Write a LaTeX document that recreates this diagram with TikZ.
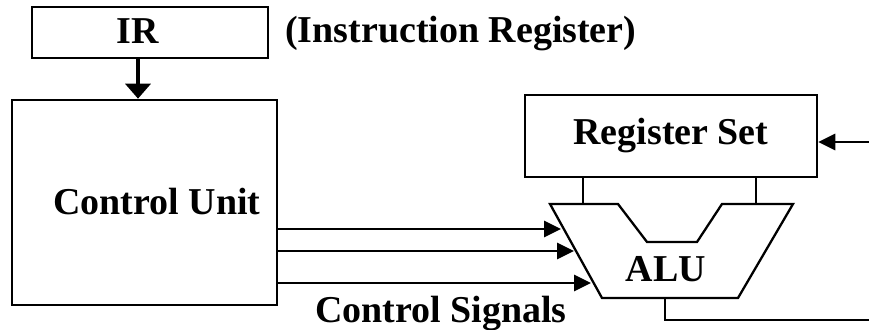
\documentclass[tikz,border=0pt]{standalone}
\usepackage{fontspec}
\setmainfont{Liberation Serif}
\usetikzlibrary{arrows.meta}

\begin{document}
\begin{tikzpicture}[
  x=0.02cm, y=-0.02cm,
  every node/.style = {font=\fontsize{21.6}{24}\selectfont\bfseries},
  box/.style = {draw, line width=1.5pt, inner sep=0pt},
  txt/.style = {anchor=base, inner sep=0pt},
  sig/.style = {line width=1.7pt, -{Triangle[length=0.34cm, width=0.32cm]}},
  wire/.style = {line width=1.3pt}
]
  \useasboundingbox (0,0) rectangle (869,330);

  \node[box, minimum width=4.72cm, minimum height=1.02cm] (ir) at (150,32.5) {};
  \node[txt] (irl) at (138,44) {IR};
  \node[txt, anchor=base west] (irn) at (285,43) {(Instruction\ Register)};

  \node[box, minimum width=5.3cm, minimum height=4.1cm] (cu) at (144.5,202.5) {};
  \node[txt] (cul) at (157,215) {Control Unit};

  \node[box, minimum width=5.84cm, minimum height=1.64cm] (rs) at (671,136) {};
  \node[txt] (rsl) at (671,145) {Register Set};

  % ALU outline
  \draw[wire] (550,204) -- (618,204) -- (647,242) -- (697,242) -- (722,204) -- (793,204) -- (738,298) -- (602,298) -- cycle;
  \node[txt] (alu) at (666,282) {ALU};

  \draw[line width=2.8pt, -{Triangle[length=0.3cm, width=0.5cm]}] (ir.south -| irl) -- (cu.north -| irl);

  \foreach \n/\x/\y in {1/561/229, 2/574/251, 3/591/283}
    \coordinate (s\n) at (\x,\y);
  \foreach \n in {1,2,3}
    \draw[sig] (cu.east |- s\n) -- (s\n);
  \node[txt] (csl) at (441,323) {Control Signals};

  \coordinate (p1) at (583,204);
  \coordinate (p2) at (756,204);
  \draw[wire] (rs.south -| p1) -- (p1);
  \draw[wire] (rs.south -| p2) -- (p2);

  \coordinate (rin) at (869,142);
  \draw[sig] (rin) -- (rs.east |- rin);

  \coordinate (aout) at (665,298);
  \coordinate (rout) at (869,320);
  \draw[wire] (aout) |- (rout);
\end{tikzpicture}
\end{document}
